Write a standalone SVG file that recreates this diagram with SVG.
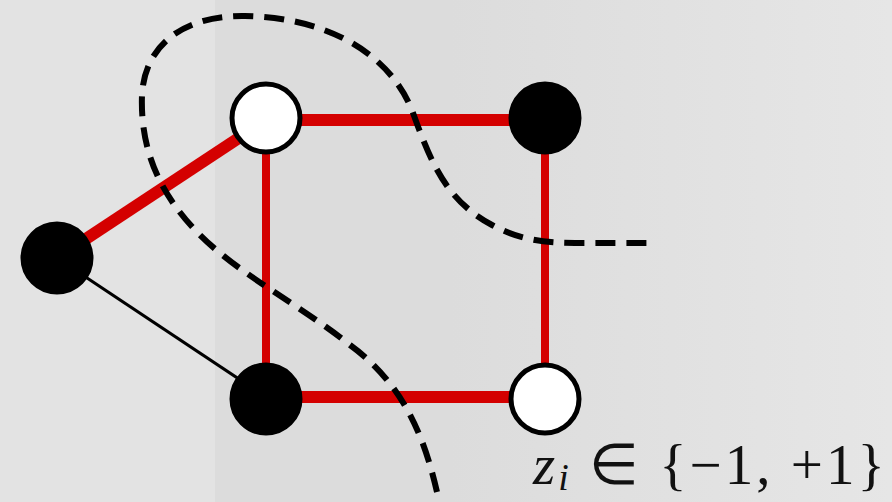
<svg xmlns="http://www.w3.org/2000/svg" width="892" height="502" viewBox="0 0 892 502">
<defs>
<linearGradient id="bgR" x1="0" y1="0" x2="1" y2="0">
<stop offset="0" stop-color="#dcdcdc"/>
<stop offset="1" stop-color="#e6e6e6"/>
</linearGradient>
<style>
.red{stroke:#d40000;fill:none;stroke-linecap:butt}
.thin{stroke:#000;stroke-width:3;fill:none}
.dash{stroke:#000;stroke-width:6;fill:none;stroke-dasharray:20 11}
.nb{fill:#000;stroke:#000;stroke-width:5}
.nw{fill:#fff;stroke:#000;stroke-width:5}
.lbl{font-family:"Liberation Serif",serif;font-size:57px;fill:#111;letter-spacing:3px}
</style>
</defs>
<rect x="0" y="0" width="892" height="502" fill="#e3e3e3"/>
<rect x="215" y="0" width="235" height="502" fill="#dcdcdc"/>
<rect x="450" y="0" width="442" height="502" fill="url(#bgR)"/>
<g id="connectors">
<line class="red" x1="266" y1="120" x2="545" y2="120" stroke-width="12"/>
<line class="red" x1="266" y1="120" x2="57" y2="258" stroke-width="12"/>
<line class="red" x1="266" y1="120" x2="266" y2="397" stroke-width="8"/>
<line class="red" x1="545" y1="120" x2="545" y2="397" stroke-width="8"/>
<line class="red" x1="266" y1="397" x2="545" y2="397" stroke-width="12"/>
<line class="thin" x1="57" y1="258" x2="266" y2="397"/>
</g>
<g id="cut">
<path class="dash" d="M437,492 C425,440 405,385 350,345 C300,305 240,275 200,235 C160,195 140,150 142,95 C145,40 190,15 245,16 C315,17 385,45 412,110 C430,160 445,200 492,225 C520,240 545,243 575,243 L655,243"/>
</g>
<g id="n1"><circle class="nw" cx="266" cy="118" r="34"/></g>
<g id="n2"><circle class="nb" cx="545" cy="118" r="34"/></g>
<g id="n3"><circle class="nb" cx="57" cy="258" r="34"/></g>
<g id="n4"><circle class="nb" cx="266" cy="399" r="34"/></g>
<g id="n5"><circle class="nw" cx="545" cy="399" r="34"/></g>
<g id="label">
<text class="lbl" x="533" y="484"><tspan font-style="italic">z</tspan><tspan font-style="italic" font-size="38" dy="6">i</tspan><tspan dy="-6"> ∈ {−1, +1}</tspan></text>
</g>
</svg>
